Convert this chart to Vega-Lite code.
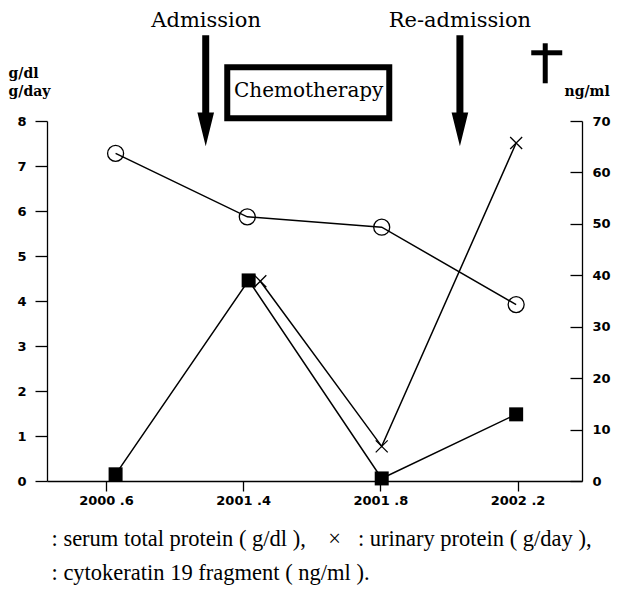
{
  "$schema": "https://vega.github.io/schema/vega-lite/v6.json",
  "width": 535,
  "height": 360,
  "autosize": {"type": "none"},
  "padding": {"left": 47, "top": 121, "right": 36, "bottom": 113},
  "background": "white",
  "config": {
    "view": {"stroke": null},
    "axis": {"grid": false, "domainColor": "black", "tickColor": "black", "labelColor": "black", "titleColor": "black", "domainWidth": 1.3, "tickWidth": 1.3}
  },
  "datasets": {
    "serum": [
      {"t": 0.07, "value": 7.28},
      {"t": 1.03, "value": 5.87},
      {"t": 2.01, "value": 5.64},
      {"t": 2.99, "value": 3.92}
    ],
    "urinary": [
      {"t": 1.125, "value": 4.44},
      {"t": 2.01, "value": 0.77},
      {"t": 2.99, "value": 7.51}
    ],
    "cyfra": [
      {"t": 0.07, "value": 1.3},
      {"t": 1.04, "value": 39.0},
      {"t": 2.01, "value": 0.5},
      {"t": 2.99, "value": 12.96}
    ],
    "events": [
      {"label": "Admission", "t": 0.73, "value": 10.08},
      {"label": "Re-admission", "t": 2.58, "value": 10.08}
    ],
    "arrows": [
      {"t": 0.727, "value": 8.671},
      {"t": 2.58, "value": 8.671}
    ],
    "chemo": [
      {"label": "Chemotherapy", "t": 1.478, "t2": 2.065, "t1": 0.884, "value": 8.66, "v1": 9.193, "v2": 8.06}
    ],
    "dagger": [
      {"t": 3.202, "t2": 3.202, "value": 9.727, "v2": 8.838},
      {"t": 3.10, "t2": 3.326, "value": 9.516, "v2": 9.516}
    ]
  },
  "layer": [
    {
      "encoding": {
        "x": {
          "field": "t", "type": "quantitative",
          "scale": {"domain": [-0.43, 3.47], "nice": false, "zero": false},
          "axis": {
            "values": [0, 1, 2, 3],
            "labelExpr": "['2000 .6','2001 .4','2001 .8','2002 .2'][datum.value]",
            "tickSize": 10,
            "labelPadding": 3,
            "labelFont": "DejaVu Sans", "labelFontWeight": "bold", "labelFontSize": 13,
            "title": [": serum total protein ( g/dl ),\u00a0\u00a0\u00a0\u00a0×\u00a0\u00a0\u00a0: urinary protein ( g/day ),", ": cytokeratin 19 fragment ( ng/ml )."],
            "titleX": 4, "titleY": 64, "titleAlign": "left", "titleAnchor": "start", "titleBaseline": "alphabetic",
            "titleFont": "Liberation Serif", "titleFontWeight": "normal", "titleFontSize": 22.5, "titleLineHeight": 34
          }
        },
        "y": {
          "field": "value", "type": "quantitative",
          "scale": {"domain": [0, 8], "nice": false, "zero": true},
          "axis": {
            "orient": "left",
            "values": [0, 1, 2, 3, 4, 5, 6, 7, 8],
            "tickSize": 12, "labelPadding": 9,
            "labelFont": "DejaVu Sans", "labelFontWeight": "bold", "labelFontSize": 13,
            "title": ["g/dl", "g/day"], "titleAngle": 0, "titleX": -39, "titleY": -44,
            "titleAlign": "left", "titleBaseline": "alphabetic",
            "titleFont": "DejaVu Serif", "titleFontWeight": "bold", "titleFontSize": 14, "titleLineHeight": 18
          }
        }
      },
      "layer": [
        {
          "data": {"name": "serum"},
          "mark": {"type": "line", "color": "black", "strokeWidth": 1.5}
        },
        {
          "data": {"name": "serum"},
          "mark": {"type": "point", "shape": "circle", "size": 256, "filled": false, "stroke": "black", "strokeWidth": 1.3, "opacity": 1}
        },
        {
          "data": {"name": "urinary"},
          "mark": {"type": "line", "color": "black", "strokeWidth": 1.5}
        },
        {
          "data": {"name": "urinary"},
          "mark": {"type": "point", "shape": "M-1,-1L1,1M-1,1L1,-1", "size": 144, "filled": false, "stroke": "black", "strokeWidth": 1.3, "opacity": 1}
        },
        {
          "data": {"name": "events"},
          "mark": {"type": "text", "font": "DejaVu Serif", "fontSize": 21, "align": "center", "baseline": "alphabetic", "color": "black"},
          "encoding": {"text": {"field": "label"}}
        },
        {
          "data": {"name": "arrows"},
          "mark": {"type": "point", "shape": "M-0.063,-1L0.063,-1L0.063,0.39L0.15,0.39L0,1L-0.15,0.39L-0.063,0.39Z", "size": 12321, "filled": true, "color": "black", "opacity": 1, "strokeWidth": 0}
        },
        {
          "data": {"name": "chemo"},
          "mark": {"type": "rect", "fill": "white", "stroke": "black", "strokeWidth": 6},
          "encoding": {
            "x": {"field": "t1", "type": "quantitative"},
            "x2": {"field": "t2"},
            "y": {"field": "v1", "type": "quantitative"},
            "y2": {"field": "v2"}
          }
        },
        {
          "data": {"name": "chemo"},
          "mark": {"type": "text", "font": "DejaVu Serif", "fontSize": 20, "align": "center", "baseline": "middle", "color": "black"},
          "encoding": {"text": {"field": "label"}}
        },
        {
          "data": {"name": "dagger"},
          "mark": {"type": "rule", "color": "black", "strokeWidth": 5},
          "encoding": {
            "x2": {"field": "t2"},
            "y2": {"field": "v2"}
          }
        }
      ]
    },
    {
      "data": {"name": "cyfra"},
      "encoding": {
        "x": {"field": "t", "type": "quantitative"},
        "y": {
          "field": "value", "type": "quantitative",
          "scale": {"domain": [0, 70], "nice": false, "zero": true},
          "axis": {
            "orient": "right",
            "values": [0, 10, 20, 30, 40, 50, 60, 70],
            "tickSize": -12, "labelPadding": 22,
            "labelFont": "DejaVu Sans", "labelFontWeight": "bold", "labelFontSize": 13,
            "title": "ng/ml", "titleAngle": 0, "titleX": -18, "titleY": -26,
            "titleAlign": "left", "titleBaseline": "alphabetic",
            "titleFont": "DejaVu Serif", "titleFontWeight": "bold", "titleFontSize": 14
          }
        }
      },
      "layer": [
        {
          "mark": {"type": "line", "color": "black", "strokeWidth": 1.5}
        },
        {
          "mark": {"type": "square", "size": 196, "color": "black", "opacity": 1}
        }
      ]
    }
  ],
  "resolve": {"scale": {"y": "independent"}}
}
